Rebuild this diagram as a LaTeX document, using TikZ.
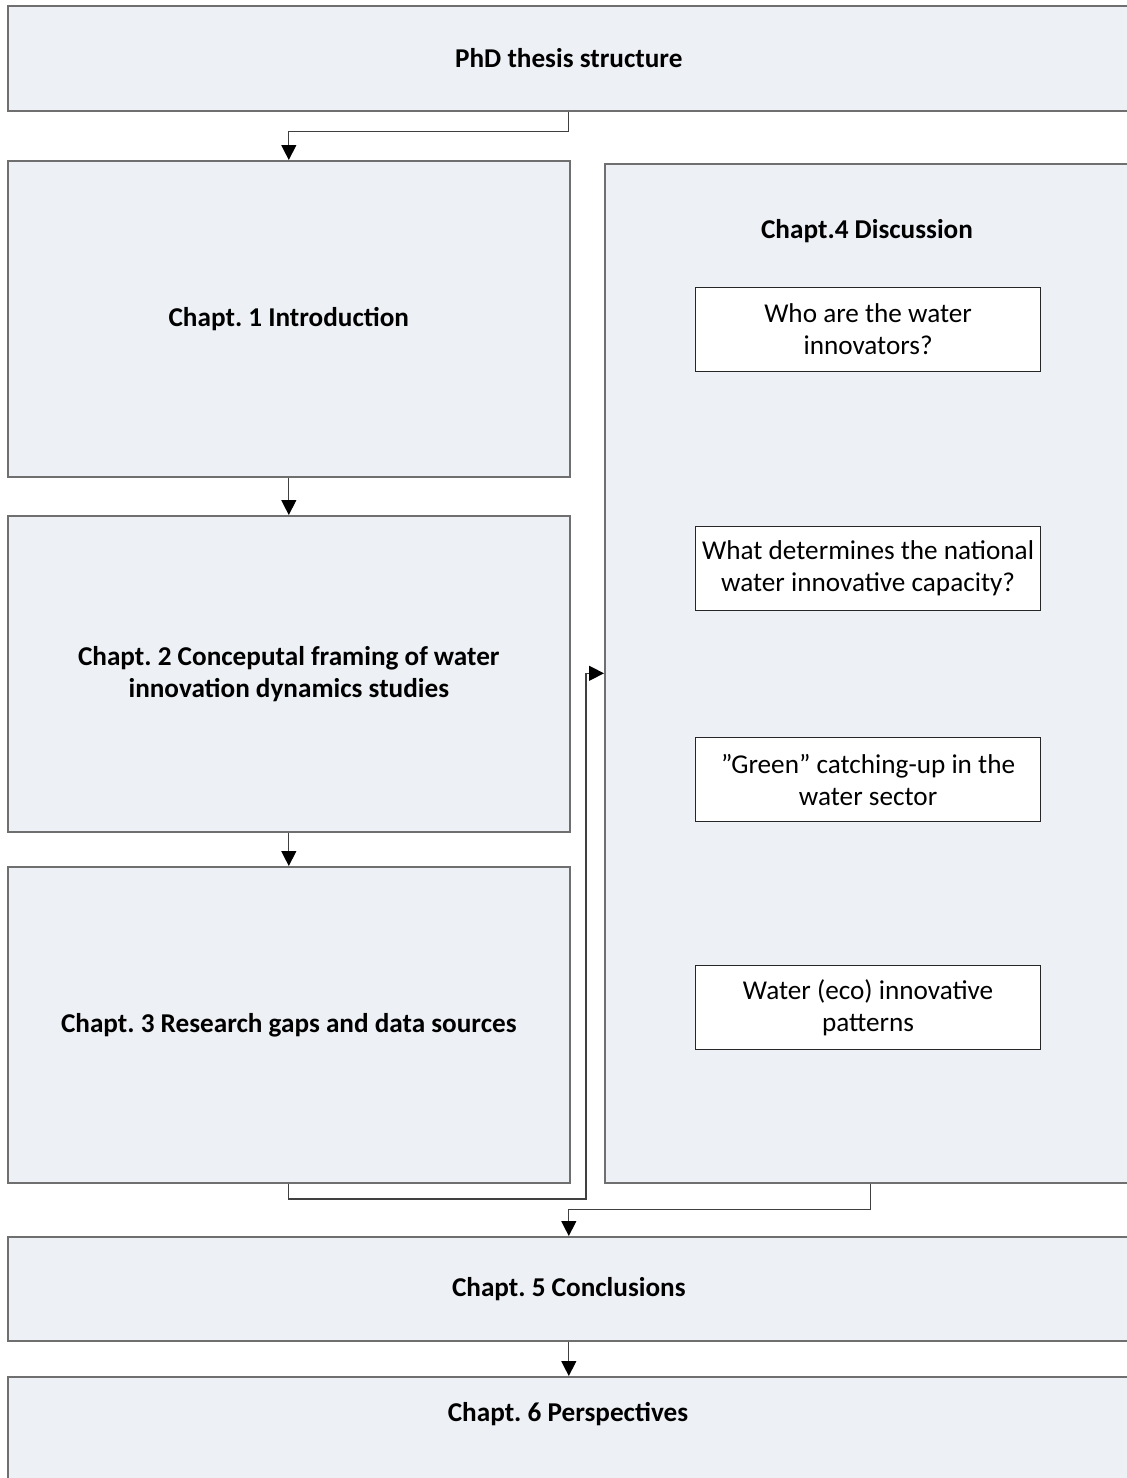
\documentclass[tikz,border=0pt]{standalone}
\usepackage{fontspec}
\setmainfont{Carlito}
\usetikzlibrary{arrows.meta,calc}
\definecolor{boxfill}{HTML}{EDF0F5}
\definecolor{boxline}{HTML}{6F6F6F}
\newcommand{\dfont}{\fontsize{13.6}{16}\selectfont}
\tikzset{
  chap/.style={draw=boxline, fill=boxfill, line width=0.8pt, anchor=north west, inner sep=0pt, font=\dfont\bfseries, align=center},
  qbox/.style={draw=black!85, fill=white, line width=0.6pt, anchor=north west, inner sep=0pt, align=center, minimum width=172.5pt, minimum height=42pt, font=\dfont},
  ttl/.style={font=\dfont\bfseries},
  arr/.style={draw=black!75, line width=0.6pt, -{Triangle[width=7.5pt,length=7.5pt,color=black]}},
}
\begin{document}
\frenchspacing
\begin{tikzpicture}[x=0.5pt,y=-0.5pt]
\useasboundingbox (0,0) rectangle (1127,1478);
\clip (0,0) rectangle (1127,1478);
\fill[white] (0,0) rectangle (1127,1478);
\node[chap, minimum width=561pt, minimum height=52.5pt] (top) at (7,5) {PhD thesis structure};
\node[chap, minimum width=281pt, minimum height=158pt] (c1) at (7,160) {Chapt. 1 Introduction};
\node[chap, minimum width=281pt, minimum height=158pt] (c2) at (7,515) {Chapt. 2 Conceputal framing of water\\innovation dynamics studies};
\node[chap, minimum width=281pt, minimum height=158pt] (c3) at (7,866) {Chapt. 3 Research gaps and data sources};
\node[chap, minimum width=265.5pt, minimum height=509.5pt] (c4) at (604,163) {};
\node[ttl] (c4t) at (867,231) {Chapt.4 Discussion};
\node[qbox] (q1) at (695,287) {Who are the water\\innovators?};
\node[qbox] (q2) at (695,526) {What determines the national\\water innovative capacity?};
\node[qbox] (q3) at (695,737) {”Green” catching-up in the\\water sector};
\node[qbox] (q4) at (695,965) {Water (eco) innovative\\patterns};
\node[chap, minimum width=561pt, minimum height=52pt] (c5) at (7,1236) {Chapt. 5 Conclusions};
\node[chap, minimum width=561pt, minimum height=60pt] (c6) at (7,1376) {};
\node[ttl] (c6t) at (568,1414) {Chapt. 6 Perspectives};
\coordinate (j1) at (586,1199);
\draw[arr] (top.south) -- ++(0,20) -| (c1.north);
\draw[arr] (c1.south) -- (c2.north);
\draw[arr] (c2.south) -- (c3.north);
\draw[arr] (c3.south) |- (j1) |- (c4.west);
\draw[arr] (c4.south) -- ++(0,26) -| (c5.north);
\draw[arr] (c5.south) -- (c6.north);
\end{tikzpicture}
\end{document}
